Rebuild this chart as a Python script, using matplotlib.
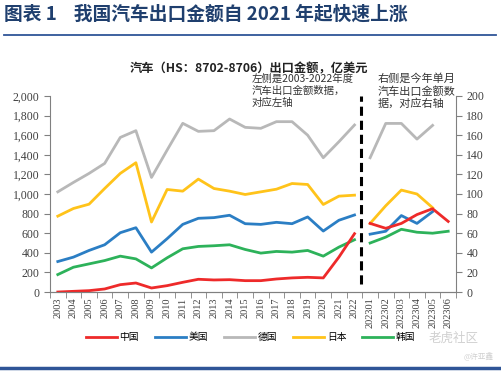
import matplotlib
matplotlib.use('Agg')
from matplotlib import pyplot as plt
import numpy as np

plt.rcParams['font.family'] = ['Noto Sans CJK SC', 'DejaVu Sans']

years = [str(y) for y in range(2003, 2023)]
months = ['202301', '202302', '202303', '202304', '202305', '202306']

# annual values (left axis, 100 million USD)
china_y = [0, 7, 14, 31, 75, 92, 41, 65, 99, 130, 123, 126, 116, 116, 133, 144, 150, 144, 356, 595]
usa_y = [311, 356, 424, 482, 605, 656, 407, 544, 690, 752, 759, 783, 697, 690, 711, 697, 766, 622, 732, 786]
germany_y = [1022, 1118, 1210, 1312, 1577, 1646, 1169, 1448, 1721, 1639, 1646, 1765, 1680, 1670, 1738, 1738, 1600, 1370, 1533, 1704]
japan_y = [774, 852, 896, 1056, 1210, 1319, 714, 1046, 1029, 1152, 1056, 1029, 995, 1022, 1049, 1107, 1097, 893, 978, 988]
korea_y = [178, 253, 287, 321, 366, 338, 246, 349, 441, 465, 472, 482, 434, 397, 414, 407, 424, 366, 458, 533]

# monthly values 2023 (right axis)
china_m = [70, 65, 70, 79, 85, 72]
usa_m = [59, 62, 78, 70, 82]
germany_m = [137, 172, 172, 156, 170]
japan_m = [70, 88, 104, 100, 86]
korea_m = [50, 56, 64, 61, 60, 62]

labels = years + months
names = ['中国', '美国', '德国', '日本', '韩国']
colors = ['#EE2A2A', '#2B7EC4', '#B8B8B8', '#FFC31A', '#2DB25A']

fig = plt.figure(figsize=(5.01, 3.72), dpi=100)
ax = fig.add_axes([0.0998, 0.215, 0.8104, 0.527])
ax2 = ax.twinx()

xa = np.arange(len(years))
xm = len(years) + np.arange(len(months))
annual = [china_y, usa_y, germany_y, japan_y, korea_y]
monthly = [china_m, usa_m, germany_m, japan_m, korea_m]
order = [2, 3, 1, 4, 0]
for i in order:
    ax.plot(xa, annual[i], color=colors[i], lw=2, label=names[i], zorder=3)
    ax2.plot(xm[:len(monthly[i])], monthly[i], color=colors[i], lw=2, zorder=3)

ax.axvline(19.4, ymin=0.04, ymax=1.0, color='black', lw=2.2, ls=(0, (3, 1.6)), zorder=4)

ax.set_xlim(-0.5, 25.5)
ax.set_ylim(0, 2000)
ax2.set_ylim(0, 200)
ax.set_yticks(np.arange(0, 2001, 200))
ax.set_yticklabels([f'{v:,}' for v in range(0, 2001, 200)])
ax2.set_yticks(np.arange(0, 201, 20))

ax.set_xticks(np.arange(len(labels)))
ax.set_xticklabels(labels, rotation=90, fontsize=7.5, family='Liberation Serif', color='#404040')
ax.set_xticks(np.arange(-0.5, 25.6, 1), minor=True)
ax.tick_params(axis='x', which='major', length=0, pad=4)
ax.tick_params(axis='x', which='minor', length=4, color='#808080', direction='out')
for a in (ax, ax2):
    a.tick_params(axis='y', length=4, color='#808080', labelsize=8.5, labelcolor='#404040')
    for lab in a.get_yticklabels():
        lab.set_family('Liberation Serif')
    a.spines['top'].set_visible(False)
    for s in ('left', 'right', 'bottom'):
        a.spines[s].set_color('#808080')
ax2.spines['left'].set_visible(False)
ax.spines['right'].set_visible(False)

handles, labs = ax.get_legend_handles_labels()
hmap = dict(zip(labs, handles))
fig.legend([hmap[n] for n in names], names, loc='center', bbox_to_anchor=(0.5, 0.094),
           ncol=5, frameon=False, fontsize=7, handlelength=3.2, columnspacing=1.6,
           handletextpad=0.3)

fig.text(0.008, 0.963, '图表 1    我国汽车出口金额自 2021 年起快速上涨', fontsize=13.5,
         fontweight='bold', color='#1F3F6E', va='center')
fig.add_artist(plt.Line2D([0.008, 0.99], [0.906, 0.906], color='#2F5597', lw=1.3))
fig.add_artist(plt.Line2D([0.0, 1.0], [0.01, 0.01], color='#2F5597', lw=2.5))

fig.text(0.497, 0.815, '汽车（HS：8702-8706）出口金额，亿美元', fontsize=8.8, fontweight='bold',
         ha='center', va='center', color='#222222')
fig.text(0.502, 0.803, '左侧是2003-2022年度\n汽车出口金额数据，\n对应左轴', fontsize=7.5,
         va='top', color='#333333', linespacing=1.25)
fig.text(0.754, 0.803, '右侧是今年单月\n汽车出口金额数\n据，对应右轴', fontsize=8,
         va='top', color='#333333', linespacing=1.2)

fig.text(0.955, 0.09, '老虎社区', fontsize=9, color='#D0D0D0', ha='right', va='center')
fig.text(0.985, 0.04, '@许亚鑫', fontsize=5.5, color='#D0D0D0', ha='right', va='center')

fig.savefig('out.png', dpi=100)
